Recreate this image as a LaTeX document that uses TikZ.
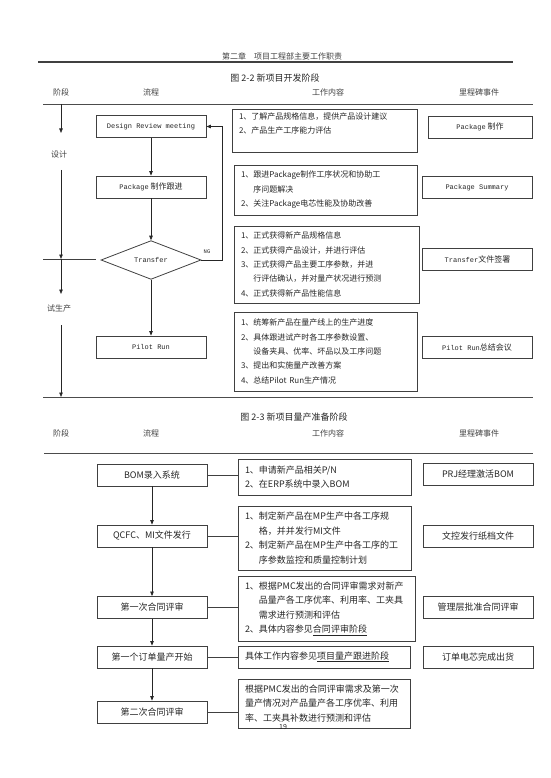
\documentclass[tikz,border=0pt]{standalone}
\usepackage{fontspec}
\setmainfont{Noto Sans CJK SC}
\newfontfamily\codefont{Liberation Mono}
\usepackage{tikz}
\usetikzlibrary{arrows.meta,shapes.geometric,calc}

\newcommand{\code}[1]{{\codefont\fontsize{7}{8}\selectfont #1}}
\newcommand{\ind}{\hphantom{1、}}

\begin{document}
\begin{tikzpicture}[x=1pt, y=-1pt,
    font=\fontsize{8}{14.4}\selectfont, text=black!85,
    flow/.style={rectangle, draw=black!75, line width=0.8pt, minimum width=110pt, minimum height=22pt, inner sep=0pt, align=center},
    mile/.style={flow},
    work/.style={rectangle, draw=black!75, line width=0.8pt, inner xsep=7pt, inner ysep=0pt, align=left},
    big/.style={font=\fontsize{9}{14.5}\selectfont},
    arr/.style={-{Triangle[length=4.5pt, width=3.5pt]}, line width=0.7pt, draw=black!85},
    link/.style={line width=0.7pt, draw=black!75},
    rule/.style={line width=0.9pt, draw=black!70},
    head/.style={font=\fontsize{8}{10}\selectfont, text=black!75},
    title/.style={font=\fontsize{9}{10}\selectfont, text=black!85}
]
\useasboundingbox (0,0) rectangle (550,778);

% page header
\node[head] (chap) at (282,56) {第二章\quad 项目工程部主要工作职责};
\coordinate (hl) at (38,62);
\coordinate (hr) at (513,62);
\draw[line width=1.1pt, draw=black!75] (hl) -- (hr);

% ---- figure 2-2
\node[title] (fig22) at (275,78) {图 2-2\ 新项目开发阶段};
\node[head] (ha1) at (61,92) {阶段};
\node[head] (ha2) at (151,92) {流程};
\node[head] (ha3) at (328,92) {工作内容};
\node[head] (ha4) at (479,92) {里程碑事件};
\coordinate (a0) at (43,104);
\coordinate (a1) at (533,104);
\draw[rule] (a0) -- (a1);

\node[flow] (drm) at (151,126.5) {\code{Design Review meeting}};
\node[flow] (pkg) at (151,187) {\code{Package} 制作跟进};
\node[diamond, draw=black!75, line width=0.8pt, minimum width=100pt, minimum height=36pt, inner sep=0pt] (tf) at (151,260) {\code{Transfer}};
\node[flow] (pilot) at (151,347) {\code{Pilot Run}};
\node[font=\codefont\fontsize{5.5}{6}\selectfont] (ng) at (207,252) {NG};
\coordinate (ngc) at (222,260);

\draw[arr] (drm) -- (pkg);
\draw[arr] (pkg) -- (tf);
\draw[arr] (tf) -- (pilot);
\draw[arr] (tf.east) -- (ngc) |- (drm.east);

\node[work, text width=171pt, minimum height=43pt] (w1) at (324.5,130.5)
  {1、了解产品规格信息，提供产品设计建议\\2、产品生产工序能力评估\\\mbox{}};
\node[work, text width=169pt, minimum height=50pt] (w2) at (325.5,190)
  {1、跟进Package制作工序状况和协助工\\\ind 序问题解决\\2、关注Package电芯性能及协助改善};
\node[work, text width=171pt, minimum height=77pt] (w3) at (326.5,264.5)
  {1、正式获得新产品规格信息\\2、正式获得产品设计，并进行评估\\3、正式获得产品主要工序参数，并进\\\ind 行评估确认，并对量产状况进行预测\\4、正式获得新产品性能信息};
\node[work, text width=169pt, minimum height=79pt] (w4) at (325.5,351.5)
  {1、统筹新产品在量产线上的生产进度\\2、具体跟进试产时各工序参数设置、\\\ind 设备夹具、优率、坏品以及工序问题\\3、提出和实施量产改善方案\\4、总结Pilot Run生产情况};

\node[mile, minimum width=104pt] (m1) at (480,127) {\code{Package} 制作};
\node[mile] (m2) at (477,187.5) {\code{Package Summary}};
\node[mile] (m3) at (477.5,259) {\code{Transfer}文件签署};
\node[mile] (m4) at (477,347.5) {\code{Pilot Run}总结会议};

% stage arrows
\coordinate (s0) at (61,104);
\coordinate (s1) at (61,133);
\node[head] (design) at (59,154) {设计};
\coordinate (s2) at (61,170);
\coordinate (s3) at (61,259);
\coordinate (g0) at (43,259);
\coordinate (g1) at (96,259);
\coordinate (s4) at (61,294);
\node[head] (trial) at (59,308) {试生产};
\coordinate (s5) at (61,325);
\coordinate (s6) at (61,397);
\draw[arr] (s0) -- (s1);
\draw[arr] (s2) -- (s3);
\draw[link] (g0) -- (g1);
\draw[arr] (s3) -- (s4);
\draw[arr] (s5) -- (s6);

\coordinate (b0) at (43,397);
\coordinate (b1) at (533,397);
\draw[rule] (b0) -- (b1);

% ---- figure 2-3
\node[title] (fig23) at (294,417) {图 2-3\ 新项目量产准备阶段};
\node[head] (hb1) at (61,433) {阶段};
\node[head] (hb2) at (151,433) {流程};
\node[head] (hb3) at (328,433) {工作内容};
\node[head] (hb4) at (479,433) {里程碑事件};
\coordinate (c0) at (44,453);
\coordinate (c1) at (533,453);
\draw[rule] (c0) -- (c1);

\node[flow, big] (bom) at (152,475) {BOM录入系统};
\node[flow, big] (qcfc) at (152,536) {QCFC、MI文件发行};
\node[flow, big] (rev1) at (152,607.5) {第一次合同评审};
\node[flow, big] (order) at (152,657) {第一个订单量产开始};
\node[flow, big] (rev2) at (152,712) {第二次合同评审};

\draw[arr] (bom) -- (qcfc);
\draw[arr] (qcfc) -- (rev1);
\draw[arr] (rev1) -- (order);
\draw[arr] (order) -- (rev2);

\node[work, big, text width=159pt, minimum height=36pt] (t1) at (324.5,477)
  {1、申请新产品相关P/N\\2、在ERP系统中录入BOM};
\node[work, big, text width=159pt, minimum height=64pt] (t2) at (324.5,538)
  {1、制定新产品在MP生产中各工序规\\\ind 格，并并发行MI文件\\2、制定新产品在MP生产中各工序的工\\\ind 序参数监控和质量控制计划};
\node[work, big, text width=163pt, minimum height=65pt] (t3) at (326.5,608.5)
  {1、根据PMC发出的合同评审需求对新产\\\ind 品量产各工序优率、利用率、工夹具\\\ind 需求进行预测和评估\\2、具体内容参见\underline{合同评审阶段}};
\node[work, big, text width=158pt, minimum height=22pt] (t4) at (324,657)
  {具体工作内容参见\underline{项目量产跟进阶段}};
\node[work, big, text width=158pt, minimum height=49pt] (t5) at (324,703.5)
  {根据PMC发出的合同评审需求及第一次\\量产情况对产品量产各工序优率、利用\\率、工夹具补数进行预测和评估};

\draw[link] (bom.east) -- (bom.east -| t1.west);
\draw[link] (qcfc.east) -- (qcfc.east -| t2.west);
\draw[link] (rev1.east) -- (rev1.east -| t3.west);
\draw[link] (order.east) -- (order.east -| t4.west);
\draw[link] (rev2.east) -- (rev2.east -| t5.west);

\node[mile, big] (n1) at (478,474.5) {PRJ经理激活BOM};
\node[mile, big] (n2) at (478,536) {文控发行纸档文件};
\node[mile, big] (n3) at (478,607.5) {管理层批准合同评审};
\node[mile, big] (n4) at (478,657) {订单电芯完成出货};

\node[font=\fontsize{7}{8}\selectfont] (pnum) at (283,727) {19};

\end{tikzpicture}
\end{document}
